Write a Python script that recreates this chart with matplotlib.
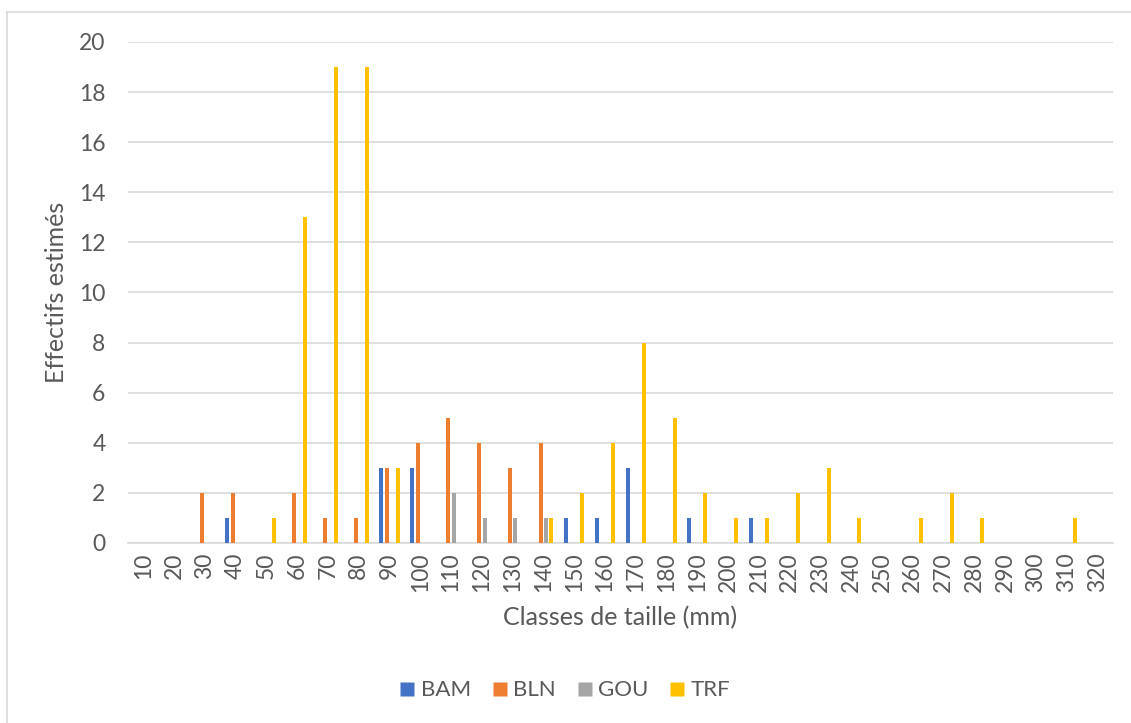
import numpy as np
import matplotlib
matplotlib.use('Agg')
import matplotlib.pyplot as plt
from matplotlib.lines import Line2D

plt.rcParams['font.family'] = ['Lato', 'DejaVu Sans']

# Size classes (mm)
classes = [str(c) for c in range(10, 330, 10)]

# Estimated counts per species, keyed by size class
bam = {40: 1, 90: 3, 100: 3, 150: 1, 160: 1, 170: 3, 190: 1, 210: 1}
bln = {30: 2, 40: 2, 60: 2, 70: 1, 80: 1, 90: 3, 100: 4, 110: 5,
       120: 4, 130: 3, 140: 4}
gou = {110: 2, 120: 1, 130: 1, 140: 1}
trf = {50: 1, 60: 13, 70: 19, 80: 19, 90: 3, 140: 1, 150: 2, 160: 4,
       170: 8, 180: 5, 190: 2, 200: 1, 210: 1, 220: 2, 230: 3, 240: 1,
       260: 1, 270: 2, 280: 1, 310: 1}

series_names = ['BAM', 'BLN', 'GOU', 'TRF']
series_data = [bam, bln, gou, trf]
colors = ['#4472C4', '#ED7D31', '#A5A5A5', '#FFC000']

text_color = '#595959'
grid_color = '#D9D9D9'

fig = plt.figure(figsize=(11.31, 7.23), dpi=100)
ax = fig.add_axes([0.113, 0.249, 0.871, 0.693])

x = np.arange(len(classes))
slot = 0.175
width = 0.13
for i, (name, data, col) in enumerate(zip(series_names, series_data, colors)):
    vals = [data.get(int(c), 0) for c in classes]
    ax.bar(x + (i - 1.5) * slot, vals, width=width, color=col, label=name,
           zorder=3)

ax.set_xlim(-0.5, len(classes) - 0.5)
ax.set_ylim(0, 20)
ax.set_yticks(range(0, 21, 2))
ax.set_xticks(x)
ax.set_xticklabels(classes, rotation=90)
ax.grid(True, axis='y', color=grid_color, linewidth=1.2, zorder=0)
ax.set_axisbelow(True)

for side in ['top', 'right', 'left']:
    ax.spines[side].set_visible(False)
ax.spines['bottom'].set_color(grid_color)
ax.spines['bottom'].set_linewidth(1.2)

ax.tick_params(axis='both', length=0, labelsize=16.5, colors=text_color)
ax.tick_params(axis='y', pad=16)
ax.tick_params(axis='x', pad=7)

ax.set_xlabel('Classes de taille (mm)', fontsize=18, color=text_color,
              labelpad=10)
ax.set_ylabel('Effectifs estimés', fontsize=18, color=text_color,
              labelpad=8)

handles = [Line2D([], [], marker='s', linestyle='none', markersize=10,
                  markerfacecolor=c, markeredgecolor='none') for c in colors]
fig.legend(handles, series_names, loc='center', bbox_to_anchor=(0.5, 0.045),
           ncol=4, frameon=False, fontsize=16, labelcolor=text_color,
           handlelength=0.6, handletextpad=0.3, columnspacing=1.0)

# chart area border (left and top edges visible)
fig.add_artist(Line2D([7 / 1131, 7 / 1131], [0, 1 - 12 / 723],
                      transform=fig.transFigure, color=grid_color, lw=1.2))
fig.add_artist(Line2D([7 / 1131, 1], [1 - 12 / 723, 1 - 12 / 723],
                      transform=fig.transFigure, color=grid_color, lw=1.2))

fig.savefig('out.png', dpi=100)
